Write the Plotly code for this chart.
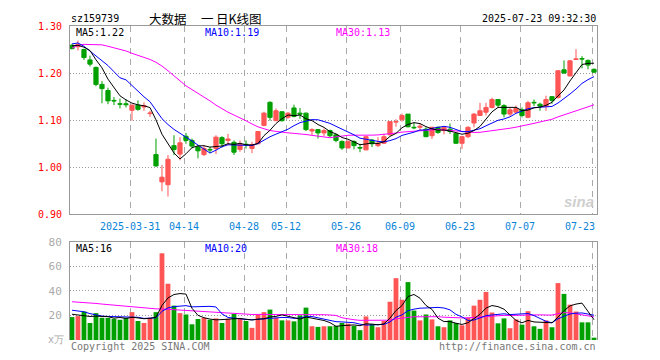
import plotly.graph_objects as go
import pandas as pd

# ---------------- data ----------------
holidays = {"2025-04-04", "2025-05-01", "2025-05-02", "2025-05-05", "2025-06-02"}
dates = [d.strftime("%Y-%m-%d") for d in pd.bdate_range("2025-03-17", "2025-07-23")
         if d.strftime("%Y-%m-%d") not in holidays]

opens = [1.259, 1.256, 1.250, 1.228, 1.212, 1.176, 1.163, 1.142, 1.135, 1.135,
         1.121, 1.132, 1.128, 1.114, 1.027, 0.969, 0.963, 1.046, 1.028, 1.066,
         1.057, 1.043, 1.027, 1.038, 1.040, 1.063, 1.057, 1.053, 1.038, 1.049,
         1.040, 1.050, 1.089, 1.138, 1.099, 1.118, 1.106, 1.126, 1.115, 1.115,
         1.077, 1.080, 1.073, 1.078, 1.069, 1.055, 1.041, 1.055, 1.042, 1.037,
         1.058, 1.046, 1.051, 1.069, 1.096, 1.101, 1.113, 1.085, 1.085, 1.081,
         1.067, 1.085, 1.078, 1.081, 1.072, 1.051, 1.065, 1.094, 1.110, 1.117,
         1.127, 1.144, 1.131, 1.113, 1.117, 1.122, 1.106, 1.138, 1.134, 1.130,
         1.150, 1.148, 1.207, 1.194, 1.229, 1.231, 1.227, 1.208]
highs = [1.262, 1.269, 1.252, 1.237, 1.214, 1.183, 1.169, 1.149, 1.146, 1.144,
         1.133, 1.142, 1.138, 1.120, 1.061, 1.005, 1.026, 1.068, 1.064, 1.073,
         1.061, 1.047, 1.047, 1.043, 1.068, 1.066, 1.071, 1.057, 1.057, 1.057,
         1.054, 1.077, 1.118, 1.140, 1.125, 1.118, 1.117, 1.133, 1.126, 1.116,
         1.083, 1.081, 1.082, 1.080, 1.071, 1.057, 1.057, 1.057, 1.050, 1.067,
         1.060, 1.064, 1.071, 1.097, 1.102, 1.114, 1.113, 1.095, 1.093, 1.085,
         1.086, 1.086, 1.087, 1.093, 1.074, 1.067, 1.087, 1.115, 1.137, 1.137,
         1.148, 1.144, 1.134, 1.127, 1.131, 1.127, 1.141, 1.144, 1.137, 1.152,
         1.151, 1.206, 1.227, 1.228, 1.251, 1.236, 1.229, 1.210]
lows = [1.250, 1.248, 1.228, 1.214, 1.172, 1.136, 1.134, 1.132, 1.125, 1.127,
        1.099, 1.120, 1.120, 1.107, 1.001, 0.949, 0.938, 1.026, 1.015, 1.050,
        1.040, 1.019, 1.024, 1.030, 1.028, 1.042, 1.047, 1.026, 1.033, 1.040,
        1.030, 1.049, 1.087, 1.099, 1.098, 1.097, 1.103, 1.106, 1.103, 1.077,
        1.068, 1.061, 1.066, 1.064, 1.053, 1.037, 1.041, 1.038, 1.032, 1.036,
        1.043, 1.043, 1.050, 1.067, 1.086, 1.097, 1.085, 1.081, 1.078, 1.064,
        1.060, 1.071, 1.070, 1.071, 1.050, 1.039, 1.062, 1.085, 1.109, 1.110,
        1.125, 1.127, 1.106, 1.109, 1.115, 1.106, 1.104, 1.130, 1.120, 1.120,
        1.135, 1.146, 1.199, 1.193, 1.228, 1.210, 1.208, 1.200]
closes = [1.252, 1.261, 1.233, 1.219, 1.176, 1.167, 1.141, 1.141, 1.134, 1.133,
          1.132, 1.123, 1.131, 1.115, 1.003, 0.979, 1.017, 1.038, 1.052, 1.057,
          1.045, 1.035, 1.040, 1.037, 1.064, 1.050, 1.060, 1.032, 1.049, 1.048,
          1.048, 1.076, 1.115, 1.106, 1.120, 1.099, 1.115, 1.108, 1.113, 1.080,
          1.080, 1.073, 1.078, 1.067, 1.057, 1.041, 1.055, 1.046, 1.041, 1.065,
          1.050, 1.051, 1.065, 1.097, 1.097, 1.110, 1.086, 1.084, 1.087, 1.065,
          1.085, 1.074, 1.085, 1.076, 1.051, 1.065, 1.085, 1.113, 1.120, 1.127,
          1.144, 1.132, 1.113, 1.122, 1.125, 1.110, 1.137, 1.137, 1.130, 1.144,
          1.142, 1.205, 1.200, 1.226, 1.230, 1.230, 1.217, 1.202]
volumes = [18.7, 19.5, 23.2, 13.9, 21.9, 18.1, 18.0, 17.3, 16.5, 18.1,
           22.7, 15.5, 13.9, 18.1, 22.7, 70.7, 45.9, 28.0, 21.9, 20.8,
           12.8, 17.1, 18.1, 16.5, 17.6, 13.9, 17.3, 21.3, 17.6, 15.5,
           9.9, 20.8, 22.7, 24.8, 18.1, 16.0, 16.0, 15.2, 20.0, 26.4,
           11.2, 10.7, 11.2, 11.2, 11.5, 13.9, 13.3, 11.5, 8.0, 19.2,
           12.8, 10.4, 15.5, 31.2, 50.4, 32.8, 47.2, 24.0, 16.0, 20.8,
           16.8, 11.2, 10.4, 16.0, 13.9, 12.0, 18.1, 28.0, 32.8, 39.2,
           22.4, 13.6, 17.6, 9.6, 16.8, 12.5, 23.5, 11.2, 9.1, 16.0,
           10.4, 46.4, 37.6, 28.8, 23.2, 14.4, 14.4, 1.9]

# moving-average values at the start of the window (need earlier, unseen days)
ma5_head = [1.258, 1.259, 1.255, 1.248]
ma10_head = [1.262, 1.264, 1.257, 1.247, 1.236, 1.228, 1.216, 1.203, 1.190]
ma30_head = [1.253, 1.259, 1.261, 1.261, 1.261, 1.260, 1.257, 1.254, 1.251, 1.247,
             1.242, 1.238, 1.234, 1.229, 1.223, 1.215, 1.205, 1.194, 1.182, 1.173,
             1.165, 1.157, 1.150, 1.141, 1.132, 1.124, 1.117, 1.111, 1.104]
vma5_head = [21.0, 20.5, 20.0, 19.2]
vma10_head = [24.3, 23.8, 23.0, 21.5, 20.3, 19.5, 19.2, 19.0, 18.8]
vma30_head = [31.2, 31.0, 30.6, 30.2, 29.8, 29.3, 28.8, 28.3, 28.0, 27.5,
              27.0, 26.5, 26.2, 25.8, 25.4, 25.3, 25.0, 24.6, 24.2, 24.0,
              23.6, 23.2, 22.8, 22.4, 22.2, 21.9, 21.6, 21.3, 21.2]

label_dates = ["2025-03-31", "2025-04-14", "2025-04-28", "2025-05-12", "2025-05-26",
               "2025-06-09", "2025-06-23", "2025-07-07", "2025-07-23"]
label_texts = ["2025-03-31", "04-14", "04-28", "05-12", "05-26",
               "06-09", "06-23", "07-07", "07-23"]
price_ticks = [0.90, 1.00, 1.10, 1.20, 1.30]
vol_ticks = [20, 40, 60, 80]

# ---------------- helpers ----------------
def moving_avg(values, n, head):
    s = pd.Series(values).rolling(n).mean().tolist()
    for i, v in enumerate(head):
        s[i] = v
    return s

RED = "#ff5555"
GREEN = "#00a000"
MONO = "DejaVu Sans Mono"

x = list(range(len(dates)))
pos = {d: i for i, d in enumerate(dates)}
grid_x = [pos[d] - 0.33 for d in label_dates]
vol_colors = [RED if c >= o else GREEN for o, c in zip(opens, closes)]

ma5 = moving_avg(closes, 5, ma5_head)
ma10 = moving_avg(closes, 10, ma10_head)
ma30 = moving_avg(closes, 30, ma30_head)
vma5 = moving_avg(volumes, 5, vma5_head)
vma10 = moving_avg(volumes, 10, vma10_head)
vma30 = moving_avg(volumes, 30, vma30_head)

fig = go.Figure()
fig.add_trace(go.Candlestick(
    x=x, open=opens, high=highs, low=lows, close=closes,
    increasing=dict(line=dict(color=RED, width=1), fillcolor=RED),
    decreasing=dict(line=dict(color=GREEN, width=1), fillcolor=GREEN),
    whiskerwidth=0, hoverinfo="skip", showlegend=False, xaxis="x", yaxis="y"))
for vals, col in [(ma30, "#ff00ff"), (ma10, "#0000ff"), (ma5, "#000000")]:
    fig.add_trace(go.Scatter(x=x, y=vals, mode="lines", line=dict(color=col, width=1),
                             hoverinfo="skip", showlegend=False, xaxis="x", yaxis="y"))

fig.add_trace(go.Bar(x=x, y=volumes, width=0.8, marker=dict(color=vol_colors, line=dict(width=0)),
                     hoverinfo="skip", showlegend=False, xaxis="x2", yaxis="y2"))
for vals, col in [(vma30, "#ff00ff"), (vma10, "#0000ff"), (vma5, "#000000")]:
    fig.add_trace(go.Scatter(x=x, y=vals, mode="lines", line=dict(color=col, width=1),
                             hoverinfo="skip", showlegend=False, xaxis="x2", yaxis="y2"))

# page is rendered with an 8px body margin; figure sized so it fills the 660x360 window
OFF = 8
W, H = 660 - OFF, 360 - OFF
PLOT_L, PLOT_R, PLOT_T, PLOT_B = 70, 597, 20, 340   # target page pixels
L, T = PLOT_L - OFF, PLOT_T - OFF
R = W - (PLOT_R - OFF)
B = H - (PLOT_B - OFF)
PW, PH = W - L - R, H - T - B

def px(xp):
    return (xp - OFF - L) / PW

def py(yp):
    return (H - B - (yp - OFF)) / PH

main_bottom = py(212)
vol_top = py(240)

xaxis_common = dict(range=[-0.33, 87.5], tickvals=grid_x, showticklabels=False, ticks="",
                    showgrid=True, gridcolor="#aaaaaa", griddash="6px,5px", gridwidth=1,
                    zeroline=False, fixedrange=True)

fig.update_layout(
    width=W, height=H, autosize=False,
    margin=dict(l=L, r=R, t=T, b=B, pad=0),
    paper_bgcolor="white", plot_bgcolor="white",
    boxgap=0.3, boxgroupgap=0,
    xaxis=dict(domain=[0, 1], anchor="y", showline=True, mirror=True, linecolor="#999999",
               linewidth=1, rangeslider=dict(visible=False), **xaxis_common),
    yaxis=dict(domain=[main_bottom, 1], range=[0.90, 1.30], tickvals=price_ticks,
               tickformat=".2f", tickfont=dict(family=MONO, size=10, color="#ff0000"),
               ticks="", ticklabelstandoff=5, showgrid=True, gridcolor="#999999",
               griddash="1px,2px", zeroline=False, showline=True, mirror=True,
               linecolor="#999999", linewidth=1, fixedrange=True),
    xaxis2=dict(domain=[0, 1], anchor="y2", side="top", showline=True, mirror=False,
                linecolor="#999999", linewidth=1, **xaxis_common),
    yaxis2=dict(domain=[0, vol_top], range=[0, 80], tickvals=vol_ticks,
                tickfont=dict(family=MONO, size=11, color="#aaaaaa"),
                ticks="", ticklabelstandoff=5, showgrid=True, gridcolor="#999999",
                griddash="1px,2px", zeroline=False, showline=True, mirror=True,
                linecolor="#999999", linewidth=1, fixedrange=True),
)

ann = []
def add(text, xp, yp, color="#000000", size=10, xanchor="left", family=MONO, **kw):
    ann.append(dict(text=text, x=px(xp), y=py(yp), xref="paper", yref="paper",
                    xanchor=xanchor, yanchor="middle", showarrow=False,
                    font=dict(family=family, size=size, color=color), **kw))

CJK = "Noto Sans CJK SC"
add("sz159739", 69, 12.5)
add("大数据", 167.5, 12.5, size=12.5, xanchor="center", family=CJK)
add("一", 207.5, 12.5, size=12.5, xanchor="center", family=CJK)
add("日K线图", 239, 12.5, size=12.5, xanchor="center", family=CJK)
add("2025-07-23 09:32:30", 598, 12.5, xanchor="right")
add("MA5:1.22", 74, 26.5)
add("MA10:1.19", 203, 26.5, color="#0000ff")
add("MA30:1.13", 334, 26.5, color="#ff00ff")
add("MA5:16", 74, 246.5)
add("MA10:20", 203, 246.5, color="#0000ff")
add("MA30:18", 334, 246.5, color="#ff00ff")
add("Copyright 2025 SINA.COM", 69, 347, color="#777777")
add("http://finance.sina.com.cn", 598, 347, color="#777777", xanchor="right")
add("x万", 66, 339, color="#aaaaaa", size=10, xanchor="right")
add("<b><i>sina</i></b>", 579, 199, color="#cfcfcf", size=15, xanchor="center", family="Arial")

for d, t in zip(label_dates, label_texts):
    xi = pos[d] - 0.33
    xpix = PLOT_L + (xi + 0.33) / 87.83 * (PLOT_R - PLOT_L)
    if d == label_dates[-1]:
        xpix = 580
    add(t, xpix, 224.5, color="#0a84d8", xanchor="center")

fig.update_layout(annotations=ann)
fig.write_html("out.html", include_plotlyjs=True)
